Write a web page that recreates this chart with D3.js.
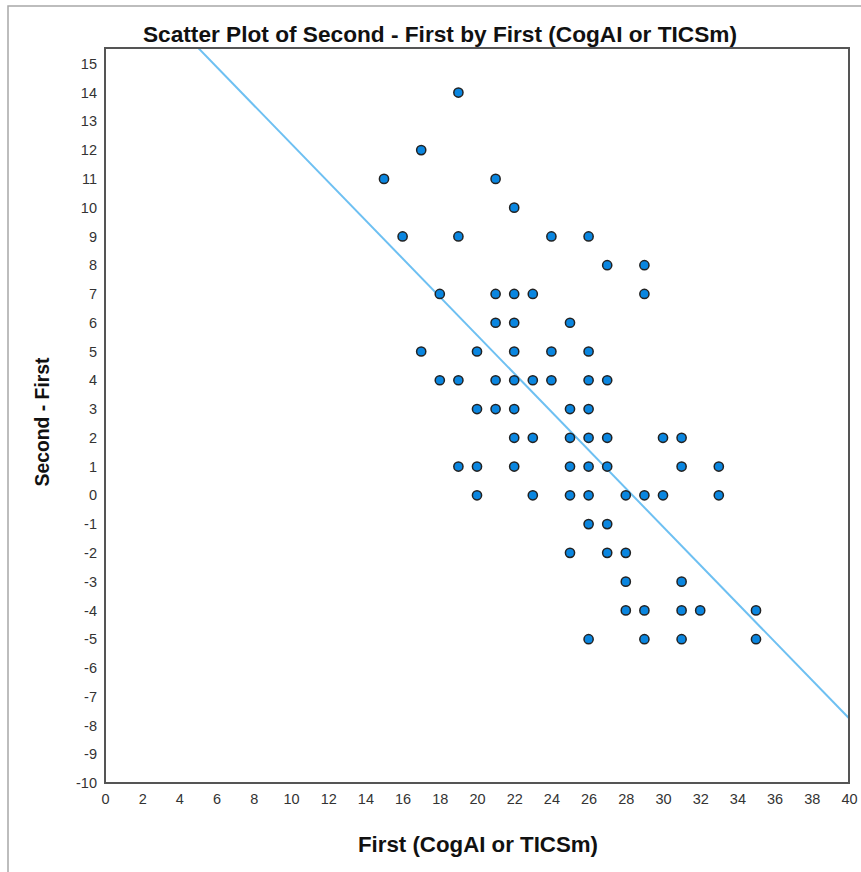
<!DOCTYPE html>
<html>
<head>
<meta charset="utf-8">
<script src="https://cdn.jsdelivr.net/npm/d3@7"></script>
<style>
  html, body { margin: 0; padding: 0; background: #fff; }
  svg { display: block; font-family: "Liberation Sans", Arial, sans-serif; }
</style>
</head>
<body>
<svg id="chart" width="861" height="872"></svg>
<script>
// First score (CogAI or TICSm)
const firstScores = [
  19, 17, 15, 21, 22,
  16, 19, 24, 26,
  27, 29,
  18, 21, 22, 23, 29,
  21, 22, 25,
  17, 20, 22, 24, 26,
  18, 19, 21, 22, 23, 24, 26, 27,
  20, 21, 22, 25, 26,
  22, 23, 25, 26, 27, 30, 31,
  19, 20, 22, 25, 26, 27, 31, 33,
  20, 23, 25, 26, 28, 29, 30, 33,
  26, 27,
  25, 27, 28,
  28, 31,
  28, 29, 31, 32, 35,
  26, 29, 31, 35
];
// Difference: Second - First
const differences = [
  14, 12, 11, 11, 10,
  9, 9, 9, 9,
  8, 8,
  7, 7, 7, 7, 7,
  6, 6, 6,
  5, 5, 5, 5, 5,
  4, 4, 4, 4, 4, 4, 4, 4,
  3, 3, 3, 3, 3,
  2, 2, 2, 2, 2, 2, 2,
  1, 1, 1, 1, 1, 1, 1, 1,
  0, 0, 0, 0, 0, 0, 0, 0,
  -1, -1,
  -2, -2, -2,
  -3, -3,
  -4, -4, -4, -4, -4,
  -5, -5, -5, -5
];
// Linear fit line: difference = fitIntercept + fitSlope * first
const fitIntercept = 18.89;
const fitSlope = -0.666;

const xTicks = d3.range(0, 41, 2);
const yTicks = d3.range(-10, 16, 1);

const svg = d3.select("#chart");

// outer frame
svg.append("rect")
  .attr("x", 8).attr("y", 6)
  .attr("width", 870).attr("height", 880)
  .attr("fill", "none")
  .attr("stroke", "#a8a8a8")
  .attr("stroke-width", 1.5);

const plot = { left: 105, right: 849, top: 48, bottom: 783 };

const x = d3.scaleLinear().domain([0, 40]).range([plot.left, plot.right]);
const y = d3.scaleLinear().domain([-10, 15.55]).range([plot.bottom, plot.top]);

// title
svg.append("text")
  .attr("x", 440).attr("y", 42)
  .attr("text-anchor", "middle")
  .attr("font-size", 22.5).attr("font-weight", "bold")
  .attr("fill", "#111")
  .attr("textLength", 594).attr("lengthAdjust", "spacingAndGlyphs")
  .text("Scatter Plot of Second - First by First (CogAI or TICSm)");

// axes (labels only, no tick marks); plain hyphen for negatives
const fmt = d => String(d);
const xAxis = d3.axisBottom(x).tickValues(xTicks).tickSize(0).tickPadding(11).tickFormat(fmt);
const yAxis = d3.axisLeft(y).tickValues(yTicks).tickSize(0).tickPadding(8).tickFormat(fmt);

const gx = svg.append("g").attr("transform", `translate(0,${plot.bottom})`).call(xAxis);
const gy = svg.append("g").attr("transform", `translate(${plot.left},0)`).call(yAxis);
[gx, gy].forEach(g => {
  g.select(".domain").remove();
  g.selectAll("text")
    .attr("font-family", "'Liberation Sans', Arial, sans-serif")
    .attr("font-size", 14.5)
    .attr("fill", "#333");
});

// clip path for plot area
svg.append("clipPath").attr("id", "plotClip")
  .append("rect")
  .attr("x", plot.left).attr("y", plot.top)
  .attr("width", plot.right - plot.left)
  .attr("height", plot.bottom - plot.top);

// fit line
const fitX = [0, 40];
svg.append("line")
  .attr("clip-path", "url(#plotClip)")
  .attr("x1", x(fitX[0])).attr("y1", y(fitIntercept + fitSlope * fitX[0]))
  .attr("x2", x(fitX[1])).attr("y2", y(fitIntercept + fitSlope * fitX[1]))
  .attr("stroke", "#6ec0f2")
  .attr("stroke-width", 2);

// points
const points = firstScores.map((f, i) => ({ first: f, diff: differences[i] }));
svg.append("g")
  .selectAll("circle")
  .data(points)
  .join("circle")
  .attr("cx", d => x(d.first))
  .attr("cy", d => y(d.diff))
  .attr("r", 4.6)
  .attr("fill", "#0a86e0")
  .attr("stroke", "#222")
  .attr("stroke-width", 1.5);

// plot frame
svg.append("rect")
  .attr("x", plot.left).attr("y", plot.top)
  .attr("width", plot.right - plot.left)
  .attr("height", plot.bottom - plot.top)
  .attr("fill", "none")
  .attr("stroke", "#555")
  .attr("stroke-width", 2);

// axis titles
svg.append("text")
  .attr("x", 478).attr("y", 852)
  .attr("text-anchor", "middle")
  .attr("font-size", 21.5).attr("font-weight", "bold")
  .attr("fill", "#111")
  .attr("textLength", 240).attr("lengthAdjust", "spacingAndGlyphs")
  .text("First (CogAI or TICSm)");

svg.append("text")
  .attr("transform", "translate(49,422) rotate(-90)")
  .attr("text-anchor", "middle")
  .attr("font-size", 20).attr("font-weight", "bold")
  .attr("fill", "#111")
  .attr("textLength", 129).attr("lengthAdjust", "spacingAndGlyphs")
  .text("Second - First");
</script>
</body>
</html>
